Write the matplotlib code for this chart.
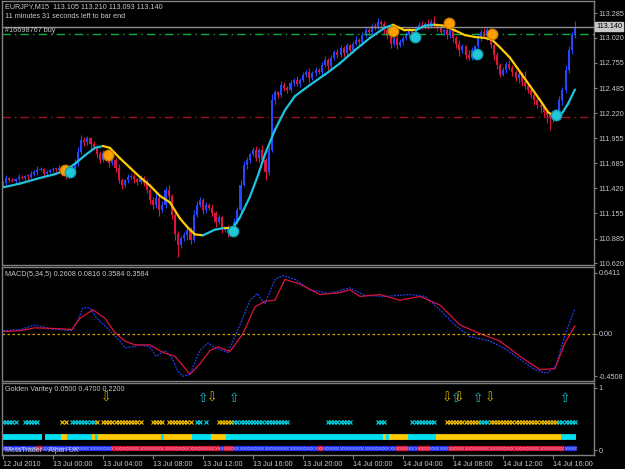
import matplotlib
matplotlib.use("Agg")
import matplotlib.pyplot as plt
import numpy as np

plt.rcParams['font.family'] = ['Liberation Sans', 'DejaVu Sans']

# ---- EURJPY M15 closes (bar 0 = 12 Jul 2010 20:00) ----
closes = [111.48, 111.53, 111.51, 111.50, 111.52, 111.54, 111.53, 111.55, 111.54, 111.57, 111.59, 111.62, 111.63, 111.57, 111.59, 111.61,
          111.63, 111.62, 111.64, 111.59, 111.55, 111.57, 111.62, 111.69, 111.81, 111.93, 111.91, 111.95, 111.89, 111.86, 111.78, 111.72,
          111.80, 111.74, 111.69, 111.72, 111.64, 111.51, 111.45, 111.51, 111.54, 111.55, 111.52, 111.49, 111.53, 111.48, 111.40, 111.30,
          111.24, 111.32, 111.19, 111.24, 111.40, 111.34, 111.14, 110.93, 110.82, 110.89, 110.92, 110.98, 110.87, 111.14, 111.24, 111.30,
          111.19, 111.24, 111.21, 111.16, 111.06, 111.11, 110.98, 111.00, 110.94, 110.98, 111.06, 111.19, 111.46, 111.67, 111.72, 111.78,
          111.83, 111.74, 111.83, 111.72, 111.59, 111.83, 112.36, 112.44, 112.41, 112.52, 112.49, 112.47, 112.54, 112.57, 112.53, 112.57,
          112.63, 112.66, 112.59, 112.65, 112.68, 112.66, 112.73, 112.79, 112.72, 112.81, 112.87, 112.84, 112.91, 112.86, 112.94, 112.89,
          112.96, 113.00, 112.98, 113.05, 113.10, 113.08, 113.15, 113.13, 113.19, 113.17, 113.10, 113.04, 112.96, 113.02, 112.94, 112.98,
          113.02, 113.05, 113.10, 113.07, 113.13, 113.16, 113.14, 113.17, 113.15, 113.19, 113.16, 113.13, 113.08, 113.10, 113.05, 113.10,
          113.02, 112.96, 112.89, 112.93, 112.84, 112.81, 112.89, 112.93, 113.02, 113.08, 113.04, 113.10, 112.94, 112.84, 112.73, 112.63,
          112.68, 112.74, 112.70, 112.66, 112.59, 112.64, 112.55, 112.51, 112.47, 112.41, 112.36, 112.31, 112.28, 112.23, 112.20, 112.17,
          112.20, 112.23, 112.36, 112.47, 112.68, 112.89, 113.05, 113.14]
first_open = 111.46
# wick lengths in pips (0.01)
wick_up = [2, 3, 1, 2, 1, 3, 2, 1, 2, 3, 2, 4, 2, 1, 3, 2,
           2, 1, 3, 2, 1, 2, 3, 4, 5, 6, 4, 3, 2, 3, 2, 4,
           3, 2, 1, 3, 2, 4, 2, 1, 3, 2, 2, 1, 3, 2, 4, 2,
           3, 5, 2, 4, 3, 6, 2, 3, 4, 2, 3, 2, 3, 5, 4, 3,
           2, 3, 2, 4, 2, 3, 2, 1, 3, 2, 4, 3, 5, 4, 3, 2,
           3, 4, 2, 5, 2, 4, 6, 3, 2, 4, 3, 2, 3, 2, 4, 2,
           3, 2, 4, 2, 3, 2, 3, 4, 2, 3, 2, 3, 4, 2, 3, 2,
           3, 4, 2, 3, 4, 3, 2, 3, 4, 2, 3, 4, 2, 3, 2, 3,
           2, 3, 4, 3, 2, 3, 4, 2, 5, 3, 6, 2, 3, 2, 3, 4,
           3, 2, 4, 3, 2, 5, 3, 2, 4, 3, 5, 4, 3, 2, 3, 2,
           3, 2, 4, 3, 2, 3, 2, 12, 3, 2, 4, 3, 2, 3, 2, 3,
           2, 3, 4, 3, 5, 4, 3, 6]
wick_dn = [3, 2, 2, 1, 3, 2, 1, 2, 3, 1, 2, 3, 2, 4, 2, 1,
           2, 3, 2, 4, 3, 2, 1, 2, 3, 2, 4, 3, 5, 2, 4, 3,
           2, 3, 4, 2, 5, 3, 4, 2, 3, 2, 4, 3, 2, 4, 3, 5,
           4, 3, 6, 2, 3, 4, 5, 6, 13, 4, 3, 5, 4, 2, 3, 2,
           4, 3, 2, 3, 5, 2, 4, 3, 4, 2, 3, 2, 3, 2, 4, 3,
           2, 3, 4, 2, 8, 3, 2, 4, 3, 2, 3, 4, 2, 3, 2, 3,
           2, 3, 4, 2, 3, 2, 3, 2, 4, 3, 2, 3, 2, 4, 3, 2,
           3, 2, 3, 4, 2, 3, 2, 3, 2, 3, 4, 3, 5, 3, 4, 2,
           3, 2, 3, 2, 3, 2, 3, 2, 3, 2, 3, 4, 2, 3, 4, 3,
           4, 5, 6, 3, 4, 3, 2, 3, 2, 3, 2, 4, 3, 5, 4, 3,
           2, 3, 2, 4, 3, 5, 4, 3, 4, 3, 5, 4, 6, 5, 8, 13,
           4, 3, 6, 5, 4, 3, 4, 3]

# moving average nodes (bar index, price)
ma_x = [0, 5.4, 11.8, 16.6, 19.8, 23, 26.2, 29.4, 32, 34.2, 37.4, 40.6, 43.8, 47, 50.2, 53.4, 56.6, 59.2, 61.4, 64,
        67.8, 71, 73.6, 75.8, 79, 81.6, 83.8, 87, 90.2, 93.4, 98.2, 103, 107.8, 112.6, 117.4, 122.2, 124.8, 128.6, 132,
        135, 138.2, 141.4, 144.6, 147.8, 151, 154.2, 156.5, 159, 162.2, 165.4, 168.6, 171.8, 174.4, 176.6, 178.9, 180.8, 183]
ma_y = [111.43, 111.47, 111.53, 111.57, 111.61, 111.68, 111.77, 111.85, 111.87, 111.85, 111.74, 111.64, 111.54, 111.45,
        111.34, 111.27, 111.10, 111.00, 110.93, 110.92, 110.98, 111.00, 111.00, 111.11, 111.33, 111.56, 111.78, 112.04,
        112.25, 112.40, 112.52, 112.63, 112.75, 112.89, 113.02, 113.13, 113.16, 113.10, 113.10, 113.15, 113.16, 113.15,
        113.10, 113.05, 113.03, 113.02, 113.00, 112.92, 112.81, 112.66, 112.51, 112.36, 112.23, 112.18, 112.22, 112.32, 112.47]

sell_dots_x = [19.8, 33.6, 124.8, 142.7, 156.5]
sell_dots_y = [111.61, 111.77, 113.09, 113.18, 113.06]
buy_dots_x = [21.4, 73.6, 131.8, 151.7, 177]
buy_dots_y = [111.59, 110.97, 113.03, 112.85, 112.20]

bid_price = 113.14
order_price = 113.06
stop_price = 112.18
price_ticks = [113.285, 113.020, 112.755, 112.485, 112.220, 111.955, 111.685, 111.420, 111.155, 110.885, 110.620]

# MACD(5,34,5)
macd_x = [0, 5.4, 10.2, 15, 22, 24, 25.6, 27.8, 30, 34.2, 37.4, 39, 41.6, 43.8, 47, 49, 51.8, 54, 56, 57.6, 59.8, 63,
          65.6, 67.8, 72, 75.8, 79, 81.3, 83.8, 87, 89.6, 93.4, 98.2, 104.6, 111, 115.8, 122.2, 130.2, 135, 139.8,
          144.6, 149.4, 155.8, 160.6, 165.4, 170.2, 174, 176.9, 179.8, 183]
macd_main = [0.03, 0.04, 0.09, 0.05, 0.03, 0.14, 0.27, 0.27, 0.16, 0.03, -0.08, -0.15, -0.14, -0.12, -0.14, -0.24, -0.18,
             -0.25, -0.40, -0.45, -0.43, -0.18, -0.10, -0.15, -0.20, 0.09, 0.35, 0.42, 0.31, 0.57, 0.61, 0.57, 0.46, 0.42,
             0.48, 0.40, 0.39, 0.41, 0.39, 0.25, 0.09, -0.03, -0.08, -0.16, -0.27, -0.38, -0.42, -0.34, -0.02, 0.26]
sig_x = [0, 5.4, 10.2, 18.2, 22, 24.6, 28.8, 32.6, 35.8, 39, 42.2, 47, 51.2, 55, 57.6, 59.8, 63, 66.2, 68.8, 72.6, 76.8,
         80.6, 83.8, 87, 90.2, 95, 101.4, 107.8, 111, 114.2, 120.6, 127, 133.4, 139.8, 146.2, 152.6, 159, 165.4, 171.8,
         176.6, 179.8, 183]
macd_signal = [0.02, 0.03, 0.06, 0.05, 0.04, 0.16, 0.25, 0.16, 0.01, -0.08, -0.12, -0.12, -0.20, -0.24, -0.34, -0.43,
               -0.32, -0.18, -0.14, -0.19, 0.0, 0.28, 0.34, 0.35, 0.57, 0.52, 0.41, 0.43, 0.46, 0.39, 0.41, 0.35, 0.39,
               0.30, 0.09, 0.0, -0.08, -0.24, -0.38, -0.37, -0.10, 0.08]

# Golden Varitey indicator: segments (start bar, end bar, colour key)
xrow = [(0, 1, 'c'), (2, 4, 'c'), (7, 11, 'c'), (19, 20, 'g'), (22, 29, 'c'), (30, 30, 'g'), (32, 44, 'g'),
        (48, 51, 'g'), (53, 57, 'g'), (58, 60, 'g'), (62, 63, 'c'), (65, 65, 'c'), (69, 73, 'g'), (74, 84, 'c'),
        (85, 91, 'c'), (104, 111, 'c'), (120, 122, 'c'), (131, 138, 'c'), (142, 144, 'g'), (145, 152, 'g'),
        (153, 155, 'c'), (156, 177, 'g'), (178, 183, 'c')]
trend_bar = [(0, 12, 'c'), (14, 19, 'c'), (19, 20, 'g'), (21, 29, 'c'), (29, 30, 'g'), (30, 31, 'c'), (31, 51, 'g'),
             (51, 52, 'c'), (52, 60, 'g'), (61, 67, 'c'), (67, 72, 'g'), (72, 122, 'c'), (122, 123, 'g'),
             (123, 124, 'c'), (124, 130, 'g'), (130, 139, 'c'), (139, 152, 'g'), (153, 178, 'g'), (179, 183, 'c')]
base_bar = [(0, 10, 'b'), (11, 12, 'r'), (13, 34, 'b'), (35, 69, 'r'), (70, 70, 'b'), (71, 73, 'r'), (74, 100, 'b'),
            (101, 102, 'r'), (103, 125, 'b'), (126, 129, 'r'), (130, 132, 'b'), (133, 136, 'r'), (137, 142, 'b'),
            (143, 179, 'r'), (180, 183, 'b')]
up_arrows = [64, 74, 145, 152, 180]
down_arrows = [33, 67, 142, 146, 156]

time_ticks = [0, 16, 32, 48, 64, 80, 96, 112, 128, 144, 160, 176]
time_labels = ['12 Jul 2010', '13 Jul 00:00', '13 Jul 04:00', '13 Jul 08:00', '13 Jul 12:00', '13 Jul 16:00',
               '13 Jul 20:00', '14 Jul 00:00', '14 Jul 04:00', '14 Jul 08:00', '14 Jul 12:00', '14 Jul 16:00']

UP = '#2446ff'
DN = '#dc143c'
CYAN = '#1cc4e0'
GOLD = '#ffcc00'
GRID = '#808080'
TXT = '#c8c8c8'
FS = 5.2
cols = {'c': '#00e0f0', 'g': '#ffc800', 'b': '#1c2cf0', 'r': '#d01438'}

W, H = 625, 469
fig = plt.figure(figsize=(W / 100, H / 100), dpi=100, facecolor='black')


def rect(left, top, right, bottom):
    return [left / W, 1 - bottom / H, (right - left) / W, (bottom - top) / H]


ax = fig.add_axes(rect(2, 1, 594, 265))
ax2 = fig.add_axes(rect(2, 267, 594, 381))
ax3 = fig.add_axes(rect(2, 383, 594, 455))
xlim = (-0.32, 189.1)

for a in (ax, ax2, ax3):
    a.set_facecolor('black')
    a.set_xlim(*xlim)
    for s in a.spines.values():
        s.set_color(GRID)
        s.set_linewidth(1)
    a.yaxis.tick_right()
    a.tick_params(axis='y', colors=GRID, labelcolor=TXT, labelsize=FS, length=2, pad=1.5)
    a.tick_params(axis='x', bottom=False, labelbottom=False)

# ---- candles ----
closes = np.array(closes)
opens = np.concatenate([[first_open], closes[:-1]])
highs = np.maximum(opens, closes) + np.array(wick_up) * 0.01
lows = np.minimum(opens, closes) - np.array(wick_dn) * 0.01
idx = np.arange(len(closes))
ccol = [UP if c >= o else DN for o, c in zip(opens, closes)]
ax.vlines(idx, lows, highs, colors=ccol, linewidth=0.8)
body = np.where(np.abs(closes - opens) < 0.01, 0.01, closes - opens)
ax.bar(idx, body, bottom=opens, width=0.66, color=ccol, linewidth=0)

# levels
ax.axhline(bid_price, color='#909090', linewidth=1)
ax.axhline(order_price, color='#00b040', linewidth=1, linestyle=(0, (6, 3, 1, 3)))
ax.axhline(stop_price, color='#a01020', linewidth=1, linestyle=(0, (6, 3, 1, 3)))

# moving average, cyan rising / yellow falling
for i in range(len(ma_x) - 1):
    c = CYAN if ma_y[i + 1] > ma_y[i] else GOLD
    ax.plot(ma_x[i:i + 2], ma_y[i:i + 2], color=c, linewidth=1.6, solid_capstyle='round')

ax.plot(sell_dots_x, sell_dots_y, 'o', color='#ffa000', markeredgecolor='#d08000', markersize=7.5)
ax.plot(buy_dots_x, buy_dots_y, 'o', color='#20c8d8', markeredgecolor='#10a0b0', markersize=7.5)

ax.set_ylim(110.604, 113.413)
ax.set_yticks(price_ticks)
ax.set_yticklabels(['%.3f' % p for p in price_ticks])
ax.text(1.004, (bid_price - 110.604) / (113.413 - 110.604), '%.3f' % bid_price, transform=ax.transAxes,
        fontsize=FS, color='black', va='center', ha='left',
        bbox=dict(boxstyle='square,pad=0.15', facecolor='#c8c8c8', edgecolor='#c8c8c8'))

# ---- MACD ----
ax2.plot(macd_x, macd_main, color='#2040ff', linewidth=0.9, linestyle=(0, (1.5, 1)))
ax2.plot(sig_x, macd_signal, color=DN, linewidth=0.9)
ax2.axhline(0, color='#d0a000', linewidth=0.9, linestyle=(0, (2, 2)))
ax2.set_ylim(-0.50, 0.70)
ax2.set_yticks([0.6411, 0.0, -0.4508])
ax2.set_yticklabels(['0.6411', '0.00', '-0.4508'])

# ---- Golden Varitey ----
for s, e, k in base_bar:
    ax3.plot([s - 0.5, e + 0.5], [0.03, 0.03], color=cols[k], linewidth=3.8, solid_capstyle='butt')
    ax3.plot(np.arange(s, e + 1), np.full(e - s + 1, 0.03), 'x', color='#8090ff' if k == 'b' else '#ff7090',
             markersize=2, markeredgewidth=0.5)
for s, e, k in trend_bar:
    ax3.plot([s - 0.5, e + 0.5], [0.21, 0.21], color=cols[k], linewidth=4.2, solid_capstyle='butt')
for s, e, k in xrow:
    ax3.plot(np.arange(s, e + 1), np.full(e - s + 1, 0.45), 'x', color=cols[k], markersize=2.6,
             markeredgewidth=0.8)
for x in up_arrows:
    ax3.text(x, 0.83, '\u21e7', color='#20c0d0', fontsize=9, ha='center', va='center', family='DejaVu Sans')
for x in down_arrows:
    ax3.text(x, 0.83, '\u21e9', color='#d8b000', fontsize=9, ha='center', va='center', family='DejaVu Sans')
ax3.set_ylim(-0.08, 1.08)
ax3.set_yticks([1, 0])
ax3.set_yticklabels(['1', '0'])
ax3.set_xticks(time_ticks)
ax3.set_xticklabels(time_labels, ha='left')
ax3.tick_params(axis='x', bottom=True, labelbottom=True, colors=GRID, labelcolor=TXT, labelsize=FS,
                length=3, pad=1)

# ---- texts ----
def ftext(x, y, s, **kw):
    fig.text(x / W, 1 - y / H, s, color=TXT, fontsize=FS, va='center', ha='left', **kw)


ftext(5, 7, 'EURJPY,M15  113.105 113.210 113.093 113.140')
ftext(5, 17, '11 minutes 31 seconds left to bar end')
ftext(5, 31, '#16698767 buy')
ftext(5, 274, 'MACD(5,34,5) 0.2608 0.0816 0.3584 0.3584')
ftext(5, 389, 'Golden Varitey 0.0500 0.4700 0.2200')
ftext(5, 450, 'MetaTrader - Alpari UK')

fig.savefig('out.png', dpi=100, facecolor='black')
